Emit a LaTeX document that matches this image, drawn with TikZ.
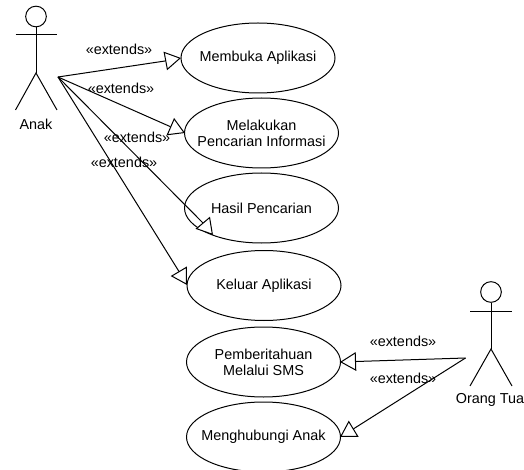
\documentclass[tikz,border=0pt]{standalone}
\usepackage{fontspec}
\setmainfont{Liberation Sans}
\usetikzlibrary{arrows.meta,shapes.geometric}
\tikzset{
    usecase/.style   = {draw, ellipse, inner sep=-40pt, minimum width=115.5pt, minimum height=52.5pt, align=center},
    actorhead/.style = {draw, circle, inner sep=0pt, minimum size=15.5pt},
    actorname/.style = {inner sep=0pt, anchor=center},
    stereo/.style    = {inner sep=0pt, anchor=center},
    extendsline/.style = {-{Triangle[length=12pt, width=14pt, fill=white]}},
}
\begin{document}
\begin{tikzpicture}[x=0.75pt, y=-0.75pt, line width=0.75pt, font=\fontsize{10.8}{12}\selectfont]
            \useasboundingbox (0,0) rectangle (524,470);
            % use cases
            \node[usecase] (membuka)     at (258.0,  58.0) {Membuka Aplikasi};
            \node[usecase] (melakukan)   at (261.5, 133.0) {Melakukan\\Pencarian Informasi};
            \node[usecase] (hasil)       at (261.5, 208.0) {Hasil Pencarian};
            \node[usecase] (keluar)      at (264.0, 285.5) {Keluar Aplikasi};
            \node[usecase] (pemberitahuan) at (263.5, 362.0) {Pemberitahuan\\Melalui SMS};
            \node[usecase] (menghubungi) at (263.5, 437.0) {Menghubungi Anak};
            % actor Anak
            \node[actorhead] (anakhead) at (36.0, 16.5) {};
            \coordinate (anakhip)  at (36.0, 73.0);
            \draw (anakhead) -- (anakhip);
            \draw (15.5, 35.0) -- (57.0, 35.0);
            \draw (15.5,110.0) -- (anakhip) -- (57.0,110.0);
            \node[actorname] (anak) at (36.0, 124.5) {Anak};
            % actor Orang Tua
            \node[actorhead] (ortuhead) at (491.0, 292.0) {};
            \coordinate (ortuhip)  at (491.0, 349.0);
            \draw (ortuhead) -- (ortuhip);
            \draw (470.0,311.0) -- (512.0,311.0);
            \draw (470.0,386.0) -- (ortuhip) -- (512.0,386.0);
            \node[actorname] (ortu) at (490.0, 399.5) {Orang Tua};
            % connectors
            \coordinate (anakport) at ( 58.0, 77.0);
            \coordinate (ortuport) at (465.5,358.0);
            \coordinate (basea) at (165.0, 61.0);  \coordinate (tipa) at (181.0, 58.0);
            \coordinate (baseb) at (170.0,126.5);  \coordinate (tipb) at (185.0,133.0);
            \coordinate (basec) at (202.5,222.5);  \coordinate (tipc) at (213.0,235.0);
            \coordinate (based) at (179.0,271.5);  \coordinate (tipd) at (187.0,285.0);
            \coordinate (basee) at (356.0,361.5);  \coordinate (tipe) at (340.0,362.0);
            \coordinate (basef) at (354.0,428.5);  \coordinate (tipf) at (340.0,437.0);
            \draw[extendsline] (anakport) -- (basea) -- (tipa);
            \draw[extendsline] (anakport) -- (baseb) -- (tipb);
            \draw[extendsline] (anakport) -- (basec) -- (tipc);
            \draw[extendsline] (anakport) -- (based) -- (tipd);
            \draw[extendsline] (ortuport) -- (basee) -- (tipe);
            \draw[extendsline] (ortuport) -- (basef) -- (tipf);
            % stereotypes
            \node[stereo] (exta) at (119.0, 49.5) {«extends»};
            \node[stereo] (extb) at (121.0, 88.0) {«extends»};
            \node[stereo] (extc) at (137.0,137.5) {«extends»};
            \node[stereo] (extd) at (124.0,162.5) {«extends»};
            \node[stereo] (exte) at (403.0,341.5) {«extends»};
            \node[stereo] (extf) at (403.0,378.5) {«extends»};
        \end{tikzpicture}
\end{document}
